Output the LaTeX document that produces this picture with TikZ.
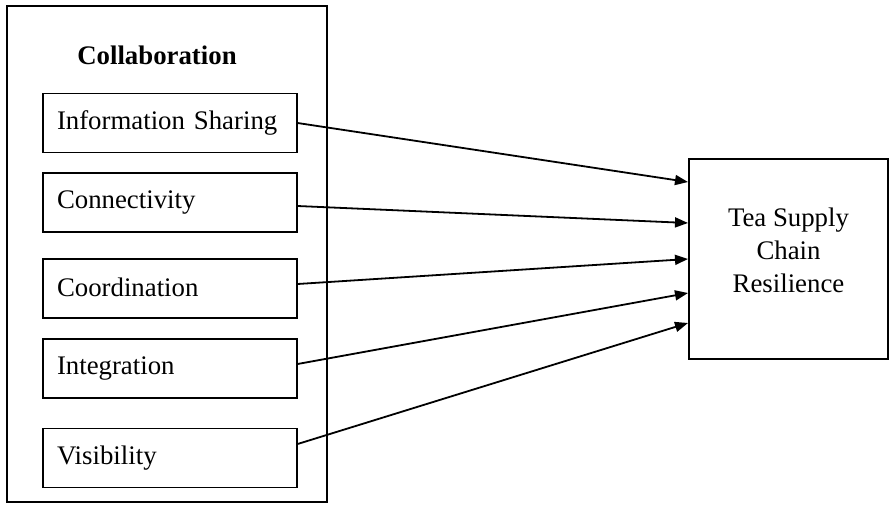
\documentclass[tikz,border=0pt]{standalone}
\usepackage{fontspec}
\setmainfont{Liberation Serif}
\usepackage{tikz}
\usetikzlibrary{arrows.meta,positioning}
\tikzset{
  factor/.style={draw,line width=0.6pt,minimum width=127pt,minimum height=29.5pt,
    text width=113pt,inner xsep=7pt,align=left},
  outcome/.style={draw,line width=1pt,minimum width=99.5pt,minimum height=100pt}
}

\begin{document}
\begin{tikzpicture}[x=0.5pt,y=-0.5pt,>={Triangle[length=6.5pt,width=5pt]},
    font=\fontsize{13.4}{16.5}\selectfont]
      \useasboundingbox (0,0) rectangle (889,504);
      % collaboration block
      \node[draw,line width=1pt,minimum width=160pt,minimum height=248pt] (collab) at (167,254) {};
      \node[font=\fontsize{13.4}{16.5}\selectfont\bfseries] (title) at (157,55) {Collaboration};
      \node[factor] (info) at (170,123) {\raisebox{1.5pt}{Information Sharing}};
      \node[factor] (conn) at (170,202.5) {\raisebox{1.5pt}{Connectivity}};
      \node[factor] (coord) at (170,288.5) {\raisebox{1.5pt}{Coordination}};
      \node[factor] (integ) at (170,368.5) {\raisebox{1.5pt}{Integration}};
      \node[factor] (vis) at (170,458) {\raisebox{1.5pt}{Visibility}};
      % outcome
      \node[outcome,label={[yshift=4.5pt,align=center]center:Tea Supply\\Chain\\Resilience}]
        (res) at (788.5,259) {};
      \draw[->,line width=0.9pt] (info.east)--([yshift=38.5pt]res.west);
      \draw[->,line width=0.9pt] ([yshift=-1.75pt]conn.east)--([yshift=18pt]res.west);
      \draw[->,line width=0.9pt] ([yshift=2.25pt]coord.east)--(res.west);
      \draw[->,line width=0.9pt] ([yshift=2.25pt]integ.east)--([yshift=-17pt]res.west);
      \draw[->,line width=0.9pt] ([yshift=7pt]vis.east)--([yshift=-32pt]res.west);
    \end{tikzpicture}
\end{document}
